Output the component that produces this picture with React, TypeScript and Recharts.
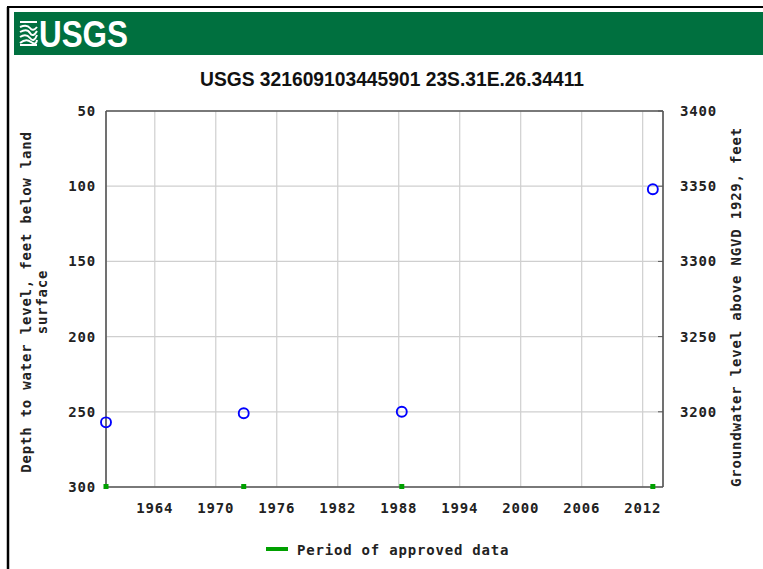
import React from 'react'
import {
  ScatterChart,
  Scatter,
  XAxis,
  YAxis,
  CartesianGrid,
  ReferenceLine,
} from 'recharts'

// water level measurements (decimal year, feet below land surface)
const measurementYears = [1959.2, 1972.75, 1988.3, 2013.0]
const depthToWater = [257, 251, 250, 102]

// land surface altitude, used for the right hand axis (feet above NGVD 1929)
const landSurface = 3450

// period of approved data markers (drawn on the bottom of the plot)
const approvedYears = [1959.2, 1972.75, 1988.3, 2013.0]
const approvedDepth = [300, 300, 300, 300]

const yearTicks = [1964, 1970, 1976, 1982, 1988, 1994, 2000, 2006, 2012]
const depthTicks = [50, 100, 150, 200, 250, 300]
const elevationTicks = [3200, 3250, 3300, 3350, 3400]

const title = 'USGS 321609103445901 23S.31E.26.34411'

const measurements = measurementYears.map((year, i) => ({
  year,
  depth: depthToWater[i],
  elevation: landSurface - depthToWater[i],
}))
const approved = approvedYears.map((year, i) => ({ year, depth: approvedDepth[i] }))

const mono = '"DejaVu Sans Mono", monospace'
const tickStyle = { fontFamily: mono, fontWeight: 'bold', fontSize: 14, letterSpacing: 0.8, fill: '#222' }

const Circle = (props: any) => (
  <circle cx={props.cx} cy={props.cy} r={5} fill="none" stroke="#0000ff" strokeWidth={1.9} />
)

const Square = (props: any) => (
  <rect x={props.cx - 2.5} y={props.cy - 3} width={5} height={5} fill="#00a000" />
)

const Nothing = () => <g />

const Decorations = () => (
  <svg width={763} height={569} style={{ position: 'absolute', left: 0, top: 0 }}>
    <rect x={0} y={0} width={763} height={569} fill="#fff" />
    <line x1={7} y1={7} x2={763} y2={7} stroke="#000" strokeWidth={2} />
    <line x1={8} y1={7} x2={8} y2={569} stroke="#000" strokeWidth={2.5} />
    <rect x={14} y={12} width={749} height={43} fill="#00703f" />
    {/* logo waves */}
    <g stroke="#fff" strokeWidth={2} fill="none">
      <path d="M20 22 L37 22" />
      <path d="M20 27 Q27 24 30 28 T37 27" />
      <path d="M20 32 Q27 28 30 33 T37 31" />
      <path d="M20 37 Q26 33 30 38 T37 35" />
      <path d="M20 43 Q26 38 31 42 T37 40" />
      <path d="M20 45 L37 45" />
    </g>
    <text x={39} y={47} fill="#fff" fontFamily="Liberation Sans, Arial" fontWeight="bold" fontSize={36}
      textLength={89} lengthAdjust="spacingAndGlyphs">USGS</text>
    <text x={392} y={86} textAnchor="middle" fill="#111" fontFamily="Liberation Sans, Arial" fontWeight="bold"
      fontSize={21} textLength={384} lengthAdjust="spacingAndGlyphs">{title}</text>
    <g style={tickStyle as any}>
      <text transform="translate(31,302) rotate(-90)" textAnchor="middle">Depth to water level, feet below land</text>
      <text transform="translate(47,302) rotate(-90)" textAnchor="middle">surface</text>
      <text transform="translate(741,307) rotate(-90)" textAnchor="middle">Groundwater level above NGVD 1929, feet</text>
    </g>
    <line x1={266} y1={549} x2={288} y2={549} stroke="#00a000" strokeWidth={4} />
    <text x={297} y={555} style={tickStyle as any}>Period of approved data</text>
  </svg>
)

export default function App() {
  return (
    <div style={{ position: 'fixed', left: 0, top: 0, width: 763, height: 569, background: '#fff' }}>
      <Decorations />
      <div style={{ position: 'absolute', left: 0, top: 0 }}>
        <ScatterChart width={763} height={569} margin={{ top: 111, left: 60, right: 40, bottom: 52 }}>
          <CartesianGrid yAxisId="left" stroke="#cfcfcf" strokeWidth={1.2} />
          <XAxis
            dataKey="year"
            type="number"
            domain={[1959.2, 2014]}
            ticks={yearTicks}
            height={30}
            tickSize={0}
            tickMargin={16}
            tick={tickStyle}
            axisLine={{ stroke: '#555', strokeWidth: 1.6 }}
          />
          <YAxis
            yAxisId="left"
            dataKey="depth"
            type="number"
            domain={[50, 300]}
            ticks={depthTicks}
            reversed
            width={46}
            tickSize={0}
            tickMargin={10}
            tick={tickStyle}
            axisLine={{ stroke: '#555', strokeWidth: 1.6 }}
          />
          <YAxis
            yAxisId="right"
            dataKey="elevation"
            orientation="right"
            type="number"
            domain={[3150, 3400]}
            ticks={elevationTicks}
            width={60}
            tickSize={-5}
            tickMargin={22}
            tick={{ ...tickStyle, textAnchor: 'start' }}
            tickLine={{ stroke: '#555' }}
            axisLine={{ stroke: '#555', strokeWidth: 1.6 }}
          />
          <ReferenceLine yAxisId="left" y={50} stroke="#555" strokeWidth={1.6} />
          <Scatter yAxisId="right" data={measurements} shape={Nothing} isAnimationActive={false} />
          <Scatter yAxisId="left" data={approved} shape={Square} isAnimationActive={false} />
          <Scatter yAxisId="left" data={measurements} shape={Circle} isAnimationActive={false} />
        </ScatterChart>
      </div>
    </div>
  )
}
